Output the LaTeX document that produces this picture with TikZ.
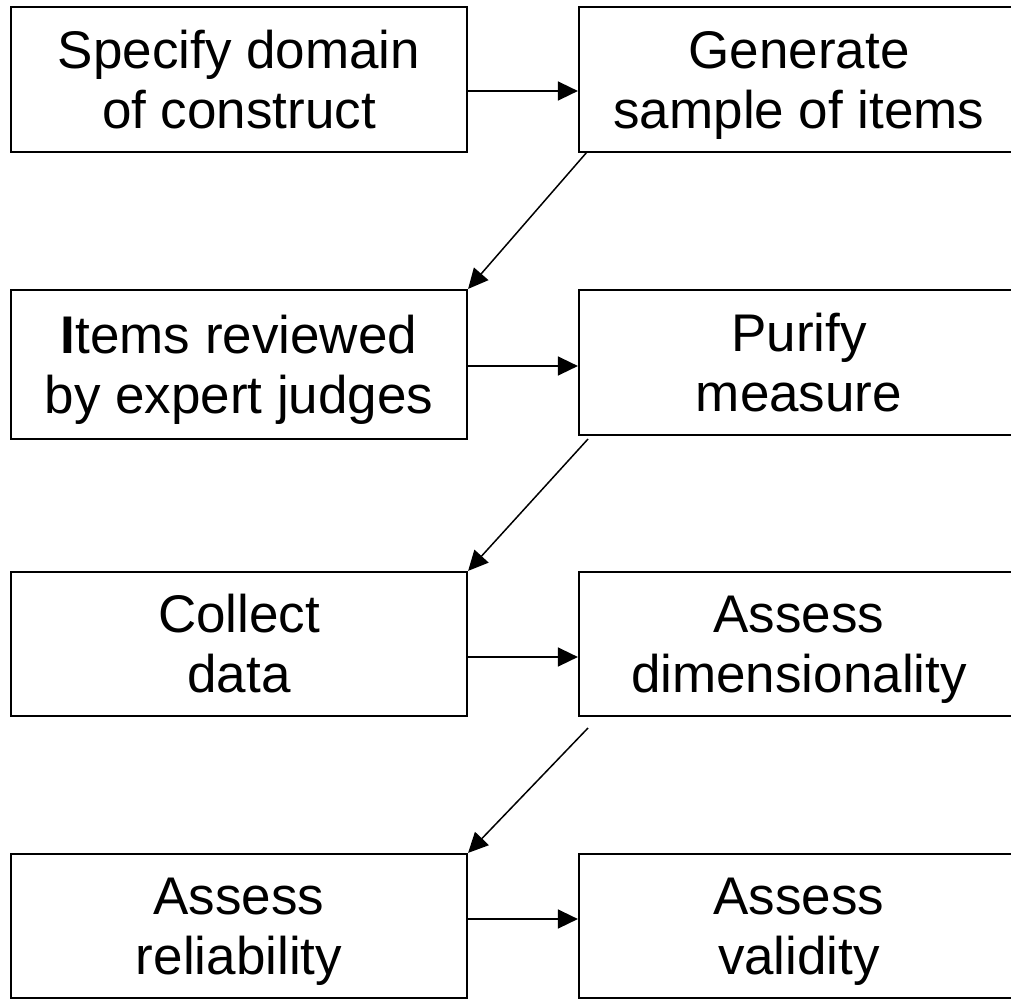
\documentclass[tikz,border=0pt]{standalone}
\usepackage{fontspec}
\setmainfont{Liberation Sans}
\usetikzlibrary{arrows.meta}
% struts that give every two-line label the same height and depth
\newcommand\topstrut{\rule{0pt}{49pt}}
\newcommand\botstrut{\rule[-12pt]{0pt}{12pt}}
\begin{document}
\begin{tikzpicture}[x=1pt,y=-1pt,
  stepbox/.style={draw, line width=2.2pt, inner sep=0pt, align=center,
    font=\fontsize{53}{60}\selectfont},
  link/.style={line width=1.5pt, -{Triangle[length=20pt,width=19pt]}}]
\useasboundingbox (0,0) rectangle (1011,998);

% left column
\node[stepbox, minimum width=456pt, minimum height=145pt] (spec) at (239,79.5)
  {\topstrut Specify domain\\of construct\botstrut};
\node[stepbox, minimum width=456pt, minimum height=149pt] (items) at (239,364.5)
  {\topstrut\textbf{I}tems reviewed\\by expert judges\botstrut};
\node[stepbox, minimum width=456pt, minimum height=144pt] (collect) at (239,644)
  {\topstrut Collect\\data\botstrut};
\node[stepbox, minimum width=456pt, minimum height=144pt] (reli) at (239,926)
  {\topstrut Assess\\reliability\botstrut};

% right column
\node[stepbox, minimum width=440pt, minimum height=145pt] (gen) at (799,79.5)
  {\topstrut Generate\\sample of items\botstrut};
\node[stepbox, minimum width=440pt, minimum height=145pt] (purify) at (799,362.5)
  {\topstrut Purify\\measure\botstrut};
\node[stepbox, minimum width=440pt, minimum height=144pt] (dim) at (799,644)
  {\topstrut Assess\\dimensionality\botstrut};
\node[stepbox, minimum width=440pt, minimum height=144pt] (valid) at (799,926)
  {\topstrut Assess\\validity\botstrut};

% horizontal steps
\draw[link] (spec.east |- 0,91) -- (gen.west |- 0,91);
\draw[link] (items.east |- 0,366) -- (purify.west |- 0,366);
\draw[link] (collect.east |- 0,657) -- (dim.west |- 0,657);
\draw[link] (reli.east |- 0,919) -- (valid.west |- 0,919);

% diagonal steps to the next row
\coordinate (d1) at (587,152);
\coordinate (d2) at (588,439);
\coordinate (d3) at (588,728);
\draw[link] (d1) -- (items.north east);
\draw[link] (d2) -- (collect.north east);
\draw[link] (d3) -- (reli.north east);
\end{tikzpicture}
\end{document}
